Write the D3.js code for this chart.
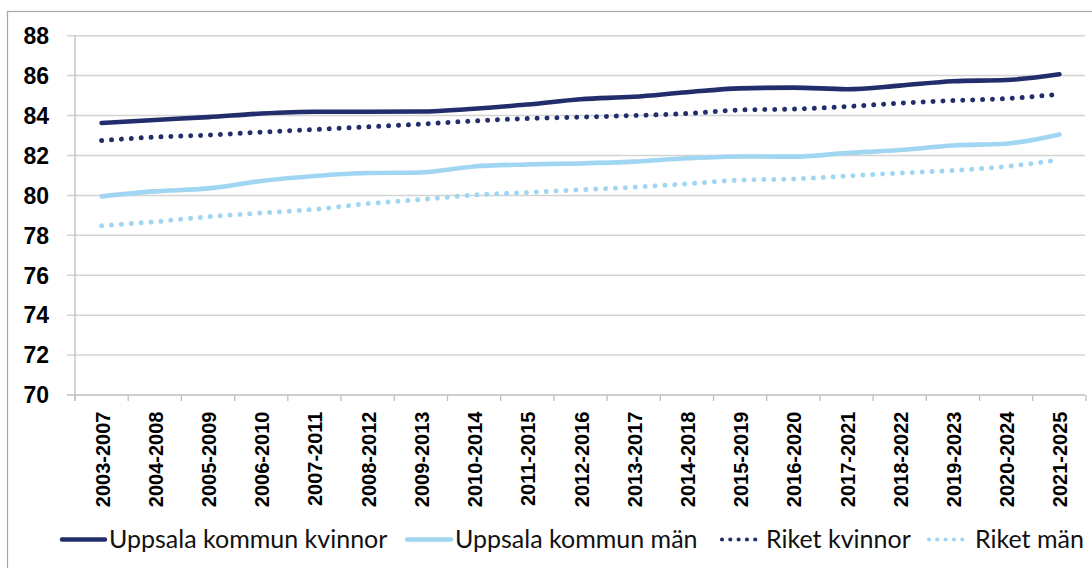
<!DOCTYPE html>
<html>
<head>
<meta charset="utf-8">
<script src="https://cdn.jsdelivr.net/npm/d3@7"></script>
<style>
  html, body { margin: 0; padding: 0; background: #fff; }
  svg { display: block; }
</style>
</head>
<body>
<div id="chart"></div>
<script>
  "use strict";

  const categories = [
    "2003-2007", "2004-2008", "2005-2009", "2006-2010", "2007-2011",
    "2008-2012", "2009-2013", "2010-2014", "2011-2015", "2012-2016",
    "2013-2017", "2014-2018", "2015-2019", "2016-2020", "2017-2021",
    "2018-2022", "2019-2023", "2020-2024", "2021-2025"
  ];

  const uppsalaKvinnor = [83.63, 83.78, 83.92, 84.1, 84.19, 84.19, 84.2, 84.34, 84.55, 84.82,
    84.94, 85.17, 85.36, 85.4, 85.32, 85.5, 85.72, 85.78, 86.07];
  const uppsalaMan = [79.95, 80.2, 80.35, 80.72, 80.97, 81.12, 81.15, 81.45, 81.55, 81.6,
    81.69, 81.86, 81.95, 81.94, 82.12, 82.27, 82.5, 82.59, 83.05];
  const riketKvinnor = [82.75, 82.92, 83.02, 83.17, 83.3, 83.43, 83.57, 83.73, 83.85, 83.92,
    84.0, 84.1, 84.28, 84.32, 84.45, 84.62, 84.75, 84.85, 85.07];
  const riketMan = [78.48, 78.68, 78.93, 79.12, 79.3, 79.59, 79.79, 80.02, 80.15, 80.28,
    80.41, 80.58, 80.77, 80.82, 80.97, 81.12, 81.25, 81.45, 81.78];

  const yTicks = [70, 72, 74, 76, 78, 80, 82, 84, 86, 88];

  const NAVY = "#222d6b";
  const SKY = "#a0d6f2";

  const series = [
    { name: "Uppsala kommun kvinnor", values: uppsalaKvinnor, color: NAVY, dotted: false },
    { name: "Uppsala kommun män", values: uppsalaMan, color: SKY, dotted: false },
    { name: "Riket kvinnor", values: riketKvinnor, color: NAVY, dotted: true },
    { name: "Riket män", values: riketMan, color: SKY, dotted: true }
  ];

  const width = 1092;
  const height = 568;
  const plot = { left: 75, right: 1086, top: 35.7, bottom: 395 };

  const svg = d3.select("#chart")
    .append("svg")
    .attr("width", width)
    .attr("height", height);

  // chart frame (cropped on the right and bottom)
  svg.append("rect")
    .attr("x", 7.5).attr("y", 11.5)
    .attr("width", 1200).attr("height", 700)
    .attr("fill", "none")
    .attr("stroke", "#a6a6a6")
    .attr("stroke-width", 1.2);

  const x = d3.scaleBand()
    .domain(categories)
    .range([plot.left, plot.right]);

  const y = d3.scaleLinear()
    .domain([70, 88])
    .range([plot.bottom, plot.top]);

  // gridlines
  svg.append("g")
    .selectAll("line")
    .data(yTicks)
    .join("line")
    .attr("x1", plot.left - 8)
    .attr("x2", plot.right - 1)
    .attr("y1", (d) => y(d))
    .attr("y2", (d) => y(d))
    .attr("stroke", (d) => (d === 70 ? "#bfbfbf" : "#d4d4d4"))
    .attr("stroke-width", 1.5);

  // vertical axis line
  svg.append("line")
    .attr("x1", plot.left).attr("x2", plot.left)
    .attr("y1", plot.top).attr("y2", plot.bottom + 6)
    .attr("stroke", "#bfbfbf")
    .attr("stroke-width", 1.3);

  // category tick marks at band boundaries
  const bounds = categories.map((c) => x(c)).concat([plot.right]);
  svg.append("g")
    .selectAll("line")
    .data(bounds)
    .join("line")
    .attr("x1", (d) => d).attr("x2", (d) => d)
    .attr("y1", plot.bottom).attr("y2", plot.bottom + 6)
    .attr("stroke", "#bfbfbf")
    .attr("stroke-width", 1.3);

  // y labels
  svg.append("g")
    .selectAll("text")
    .data(yTicks)
    .join("text")
    .attr("x", 49)
    .attr("y", (d) => y(d))
    .attr("dy", "0.36em")
    .attr("text-anchor", "end")
    .attr("font-family", "'Liberation Sans', Arial, sans-serif")
    .attr("font-weight", "bold")
    .attr("font-size", 23)
    .attr("fill", "#000")
    .text((d) => d);

  // x labels (rotated)
  svg.append("g")
    .selectAll("text")
    .data(categories)
    .join("text")
    .attr("transform", (d) => `translate(${x(d) + x.bandwidth() / 2 + 8},411.5) rotate(-90)`)
    .attr("text-anchor", "end")
    .attr("font-family", "'Liberation Sans', Arial, sans-serif")
    .attr("font-weight", "bold")
    .attr("font-size", 20)
    .attr("fill", "#000")
    .text((d) => d);

  const line = d3.line()
    .x((d, i) => x(categories[i]) + x.bandwidth() / 2)
    .y((d) => y(d))
    .curve(d3.curveMonotoneX);

  svg.append("g")
    .selectAll("path")
    .data(series)
    .join("path")
    .attr("d", (s) => line(s.values))
    .attr("fill", "none")
    .attr("stroke", (s) => s.color)
    .attr("stroke-width", (s) => (s.dotted ? 5 : 4.6))
    .attr("stroke-linecap", "round")
    .attr("stroke-linejoin", "round")
    .attr("stroke-dasharray", (s) => (s.dotted ? "0.01 9.9" : null));

  // legend
  const legendItems = [
    { x0: 62, x1: 105, tx: 109 },
    { x0: 407, x1: 451, tx: 455 },
    { x0: 722, x1: 762, tx: 766 },
    { x0: 929, x1: 970, tx: 975 }
  ];
  const legend = svg.append("g");
  series.forEach((s, i) => {
    const it = legendItems[i];
    legend.append("line")
      .attr("x1", it.x0).attr("x2", it.x1)
      .attr("y1", 539.5).attr("y2", 539.5)
      .attr("stroke", s.color)
      .attr("stroke-width", s.dotted ? 4.2 : 4.4)
      .attr("stroke-linecap", "round")
      .attr("stroke-dasharray", s.dotted ? "0.01 8.3" : null);
    legend.append("text")
      .attr("x", it.tx)
      .attr("y", 547.5)
      .attr("font-family", "Lato, 'Open Sans', sans-serif")
      .attr("font-size", 25)
      .attr("fill", "#111")
      .text(s.name);
  });
</script>
</body>
</html>
